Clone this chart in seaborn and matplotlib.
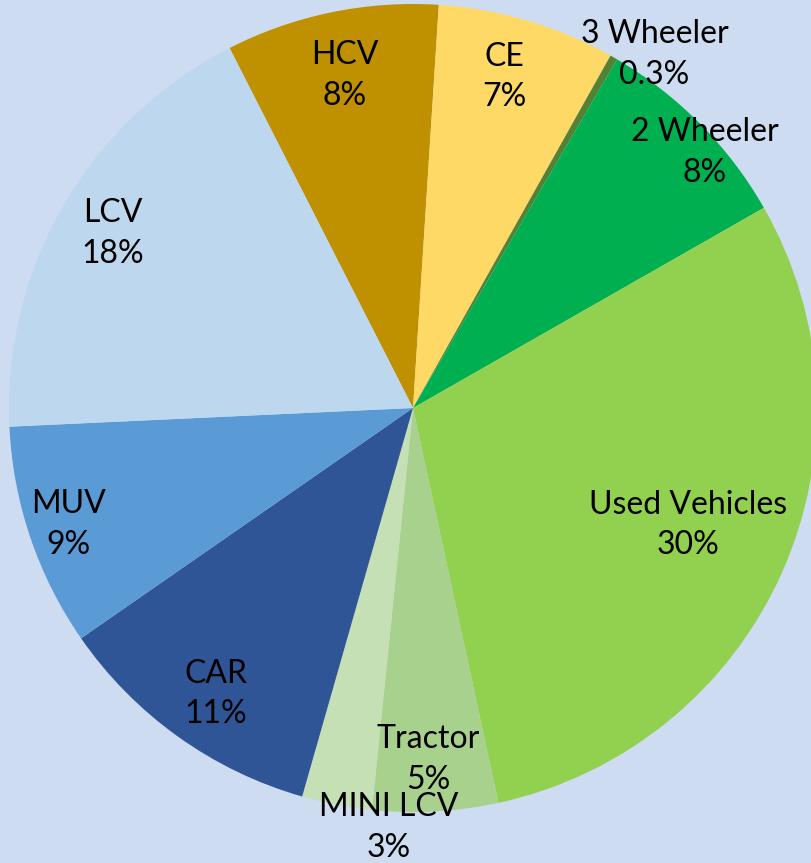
import numpy as np
import matplotlib
matplotlib.use("Agg")
import matplotlib.pyplot as plt
import seaborn as sns

# slice data, clockwise from HCV
segments = ["HCV", "CE", "3 Wheeler", "2 Wheeler", "Used Vehicles",
            "Tractor", "MINI LCV", "CAR", "MUV", "LCV"]
shares = [8.5, 7.1, 0.3, 8.3, 29.8, 5.0, 2.8, 10.9, 8.9, 18.2]
pct_labels = ["8%", "7%", "0.3%", "8%", "30%", "5%", "3%", "11%", "9%", "18%"]
colors = ["#bf9000", "#ffd966", "#548235", "#00b050", "#92d050",
          "#a9d18e", "#c5e0b4", "#2f5597", "#5b9bd5", "#bdd7ee"]

# label placement (fraction of radius, angle shift in degrees)
label_dist = [0.84, 0.85, 1.06, 0.96, 0.74, 0.87, 1.04, 0.86, 0.90, 0.86]
label_shift = [0, 1, -4.5, -3.5, 1, -0.7, 7.5, 1, 0, 0]

bg = "#cddcf1"
sns.set_style("white")
plt.rcParams["font.family"] = ["Lato", "DejaVu Sans"]

W, H = 811, 863
fig = plt.figure(figsize=(W / 100, H / 100), dpi=100, facecolor=bg)
ax = fig.add_axes([0, 0, 1, 1])
ax.set_facecolor(bg)

cx, cy, R = 413, H - 408, 404
wedges, _ = ax.pie(shares, colors=colors, startangle=117, counterclock=False,
                   center=(cx, cy), radius=R, normalize=True,
                   wedgeprops=dict(linewidth=0))

for w, name, pct, d, s in zip(wedges, segments, pct_labels, label_dist, label_shift):
    mid = np.deg2rad((w.theta1 + w.theta2) / 2 + s)
    x = cx + d * R * np.cos(mid)
    y = cy + d * R * np.sin(mid)
    ax.text(x, y, f"{name}\n{pct}", ha="center", va="center",
            fontsize=23, color="black", linespacing=1.45)

ax.set_xlim(0, W)
ax.set_ylim(0, H)
ax.set_aspect("equal")
ax.axis("off")

fig.savefig("out.png", dpi=100, facecolor=bg)
